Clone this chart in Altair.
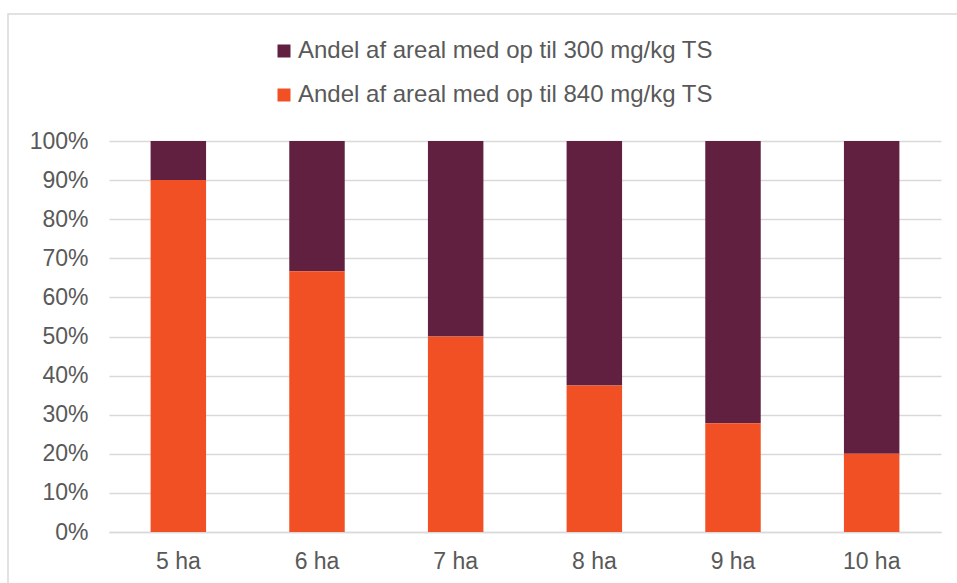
import altair as alt
import pandas as pd

categories = ["5 ha", "6 ha", "7 ha", "8 ha", "9 ha", "10 ha"]
share_840 = [0.90, 0.667, 0.50, 0.375, 0.278, 0.20]
share_300 = [0.10, 0.333, 0.50, 0.625, 0.722, 0.80]
series = ["Andel af areal med op til 300 mg/kg TS", "Andel af areal med op til 840 mg/kg TS"]
colors = ["#612040", "#F05023"]

rows = []
for c, a, b in zip(categories, share_300, share_840):
    rows.append({"cat": c, "series": series[0], "value": a, "order": 1})
    rows.append({"cat": c, "series": series[1], "value": b, "order": 0})
df = pd.DataFrame(rows)

FONT = "Liberation Sans"
TXT = "#595959"

bars = alt.Chart(df).mark_bar().encode(
    x=alt.X("cat:N", sort=categories, title=None,
            scale=alt.Scale(paddingInner=0.6, paddingOuter=0.3),
            axis=alt.Axis(labelAngle=0, labelFont=FONT, labelFontSize=23, labelColor=TXT,
                          labelPadding=18, ticks=False, domainColor="#d9d9d9", domainWidth=1.5,
                          grid=False)),
    y=alt.Y("value:Q", stack="zero", title=None,
            scale=alt.Scale(domain=[0, 1], nice=False),
            axis=alt.Axis(format="%", values=[i / 10 for i in range(11)], labelFont=FONT,
                          labelFontSize=23, labelColor=TXT, labelPadding=21, ticks=False,
                          domain=False, grid=True, gridColor="#d9d9d9", gridWidth=1.3)),
    color=alt.Color("series:N", sort=series,
                    scale=alt.Scale(domain=series, range=colors),
                    legend=alt.Legend(title=None, orient="none", legendX=163, legendY=-102,
                                      direction="vertical", symbolType="square", symbolSize=169,
                                      symbolStrokeWidth=0, labelFont=FONT, labelFontSize=24,
                                      labelColor=TXT, rowPadding=20, labelOffset=2,
                                      labelLimit=700)),
    order=alt.Order("order:Q", sort="ascending"),
)

frame = alt.Chart(pd.DataFrame({"a": [0]})).mark_rect(
    fill=None, stroke="#d9d9d9", strokeWidth=1.5
).encode(x=alt.value(-101), x2=alt.value(900), y=alt.value(-127), y2=alt.value(500))

chart = alt.layer(frame, bars).properties(
    width=832, height=391,
    background="white",
    autosize=alt.AutoSizeParams(type="none"),
    padding={"left": 109, "top": 141, "right": 16, "bottom": 51},
).configure_view(strokeWidth=0, stroke="transparent")

chart.save("out.html", embed_options={"renderer": "svg", "actions": False})
